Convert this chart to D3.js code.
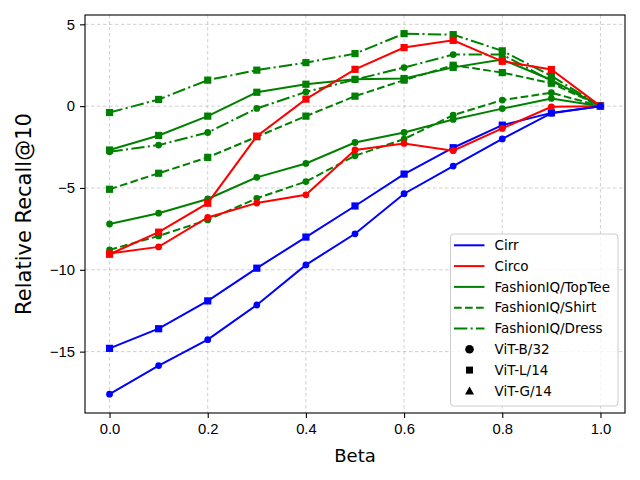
<!DOCTYPE html>
<html>
<head>
    <meta charset="utf-8">
    <script src="https://cdn.jsdelivr.net/npm/d3@7"></script>
    <style>
        body { margin: 0; background: #fff; }
        svg { font-family: "DejaVu Sans", sans-serif; }
        .grid line { stroke: #b0b0b0; stroke-opacity: 0.75; stroke-width: 0.8px; stroke-dasharray: 3.5, 2.5; }
        .axis path, .axis line { stroke: #000; }
        .axis text { font-size: 14.8px; fill: #000; }
    </style>
</head>
<body>
<script>
    // beta values on the x axis
    var betas = [0, 0.1, 0.2, 0.3, 0.4, 0.5, 0.6, 0.7, 0.8, 0.9, 1.0];

    // relative Recall@10 per dataset and backbone
    var cirrB32     = [-17.6, -15.85, -14.27, -12.15, -9.7, -7.8, -5.35, -3.66, -2.0, -0.43, 0];
    var cirrL14     = [-14.8, -13.6, -11.9, -9.9, -8.0, -6.1, -4.15, -2.54, -1.16, -0.41, 0];
    var circoB32    = [-9.0, -8.6, -6.8, -5.92, -5.42, -2.68, -2.28, -2.72, -1.36, -0.04, 0];
    var circoL14    = [-9.05, -7.7, -5.93, -1.83, 0.43, 2.25, 3.58, 4.02, 2.74, 2.24, 0];
    var topteeB32   = [-7.2, -6.54, -5.67, -4.35, -3.5, -2.22, -1.61, -0.81, -0.15, 0.47, 0];
    var topteeL14   = [-2.68, -1.79, -0.61, 0.85, 1.34, 1.64, 1.69, 2.37, 2.85, 1.6, 0];
    var shirtB32    = [-8.78, -7.93, -6.95, -5.63, -4.61, -3.03, -2.01, -0.55, 0.37, 0.82, 0];
    var shirtL14    = [-5.08, -4.1, -3.13, -1.87, -0.61, 0.61, 1.59, 2.5, 2.05, 1.4, 0];
    var dressB32    = [-2.78, -2.38, -1.61, -0.14, 0.87, 1.62, 2.36, 3.15, 3.15, 1.55, 0];
    var dressL14    = [-0.39, 0.41, 1.59, 2.2, 2.66, 3.21, 4.43, 4.37, 3.38, 1.85, 0];

    var datasetNames = ["Cirr", "Circo", "FashionIQ/TopTee", "FashionIQ/Shirt", "FashionIQ/Dress"];
    var modelNames = ["ViT-B/32", "ViT-L/14", "ViT-G/14"];
    var xTicks = [0, 0.2, 0.4, 0.6, 0.8, 1.0];
    var yTicks = [5, 0, -5, -10, -15];

    var styles = {
        "Cirr": {color: "#0000ff", dash: null},
        "Circo": {color: "#ff0000", dash: null},
        "FashionIQ/TopTee": {color: "#008000", dash: null},
        "FashionIQ/Shirt": {color: "#008000", dash: "7.7,3.3"},
        "FashionIQ/Dress": {color: "#008000", dash: "13.3,3.3,2.1,3.3"}
    };

    // drawing order (later on top)
    var series = [
        {dataset: "FashionIQ/TopTee", model: "ViT-B/32", values: topteeB32},
        {dataset: "FashionIQ/Shirt", model: "ViT-B/32", values: shirtB32},
        {dataset: "FashionIQ/Dress", model: "ViT-B/32", values: dressB32},
        {dataset: "FashionIQ/TopTee", model: "ViT-L/14", values: topteeL14},
        {dataset: "FashionIQ/Shirt", model: "ViT-L/14", values: shirtL14},
        {dataset: "FashionIQ/Dress", model: "ViT-L/14", values: dressL14},
        {dataset: "Cirr", model: "ViT-L/14", values: cirrL14},
        {dataset: "Circo", model: "ViT-L/14", values: circoL14},
        {dataset: "Circo", model: "ViT-B/32", values: circoB32},
        {dataset: "Cirr", model: "ViT-B/32", values: cirrB32}
    ];

    var W = 640, H = 480;
    var margin = {top: 15, right: 15, bottom: 67, left: 85},
        width = W - margin.left - margin.right,
        height = H - margin.top - margin.bottom;

    var svg = d3.select("body").append("svg")
        .attr("width", W)
        .attr("height", H);

    var g = svg.append("g")
        .attr("transform", "translate(" + margin.left + "," + margin.top + ")");

    var x = d3.scaleLinear().domain([-0.05, 1.05]).range([0, width]);
    var y = d3.scaleLinear().domain([-18.75, 5.57]).range([height, 0]);

    // grid
    var grid = g.append("g").attr("class", "grid");
    grid.selectAll(".gx").data(xTicks).enter().append("line")
        .attr("x1", function (d) { return x(d); })
        .attr("x2", function (d) { return x(d); })
        .attr("y1", 0).attr("y2", height);
    grid.selectAll(".gy").data(yTicks).enter().append("line")
        .attr("x1", 0).attr("x2", width)
        .attr("y1", function (d) { return y(d); })
        .attr("y2", function (d) { return y(d); });

    var line = d3.line()
        .x(function (d, i) { return x(betas[i]); })
        .y(function (d) { return y(d); });

    var plot = g.append("g");
    series.forEach(function (s) {
        var st = styles[s.dataset];
        var sg = plot.append("g");
        sg.append("path")
            .datum(s.values)
            .attr("d", line)
            .attr("fill", "none")
            .attr("stroke", st.color)
            .attr("stroke-width", 2)
            .attr("stroke-dasharray", st.dash);
        if (s.model === "ViT-B/32") {
            sg.selectAll("circle").data(s.values).enter().append("circle")
                .attr("cx", function (d, i) { return x(betas[i]); })
                .attr("cy", function (d) { return y(d); })
                .attr("r", 3.4)
                .attr("fill", st.color);
        } else {
            sg.selectAll("rect").data(s.values).enter().append("rect")
                .attr("x", function (d, i) { return x(betas[i]) - 3.6; })
                .attr("y", function (d) { return y(d) - 3.6; })
                .attr("width", 7.2)
                .attr("height", 7.2)
                .attr("fill", st.color);
        }
    });

    // axes
    var fmtY = function (d) { return d < 0 ? "\u2212" + Math.abs(d) : "" + d; };
    g.append("g")
        .attr("class", "axis")
        .attr("transform", "translate(0," + height + ")")
        .call(d3.axisBottom(x).tickValues(xTicks).tickFormat(d3.format(".1f")).tickSizeOuter(0).tickSize(5).tickPadding(5))
        .call(function (a) { a.select(".domain").remove(); a.selectAll("line").attr("stroke-width", 1.1); });
    g.append("g")
        .attr("class", "axis")
        .call(d3.axisLeft(y).tickValues(yTicks).tickFormat(fmtY).tickSizeOuter(0).tickSize(5).tickPadding(5))
        .call(function (a) { a.select(".domain").remove(); a.selectAll("line").attr("stroke-width", 1.1); });

    g.append("rect")
        .attr("width", width).attr("height", height)
        .attr("fill", "none").attr("stroke", "#000").attr("stroke-width", 1.1);

    svg.append("text")
        .attr("x", margin.left + width / 2)
        .attr("y", 462)
        .attr("text-anchor", "middle")
        .style("font-size", "18px")
        .text("Beta");

    svg.append("text")
        .attr("transform", "translate(31," + (margin.top + height / 2) + ") rotate(-90)")
        .attr("text-anchor", "middle")
        .style("font-size", "21px")
        .text("Relative Recall@10");

    // legend
    var lg = svg.append("g").attr("transform", "translate(450.5,234)");
    lg.append("rect")
        .attr("width", 167.5).attr("height", 172)
        .attr("rx", 3)
        .attr("fill", "#fff").attr("fill-opacity", 0.8)
        .attr("stroke", "#cccccc").attr("stroke-width", 1);

    var rowH = 20.8, row0 = 11.3;
    datasetNames.forEach(function (name, i) {
        var st = styles[name];
        var cy = row0 + i * rowH;
        lg.append("line")
            .attr("x1", 3.5).attr("x2", 34)
            .attr("y1", cy).attr("y2", cy)
            .attr("stroke", st.color).attr("stroke-width", 2)
            .attr("stroke-dasharray", st.dash);
        lg.append("text")
            .attr("x", 44).attr("y", cy).attr("dy", "0.35em")
            .style("font-size", "13.5px")
            .text(name);
    });
    modelNames.forEach(function (name, j) {
        var cy = row0 + (datasetNames.length + j) * rowH;
        var mx = 19;
        if (j === 0) {
            lg.append("circle").attr("cx", mx).attr("cy", cy).attr("r", 4.3).attr("fill", "#000");
        } else if (j === 1) {
            lg.append("rect").attr("x", mx - 3.5).attr("y", cy - 3.5).attr("width", 7).attr("height", 7).attr("fill", "#000");
        } else {
            lg.append("path")
                .attr("d", "M" + mx + "," + (cy - 4.5) + "L" + (mx + 4.5) + "," + (cy + 3.5) + "L" + (mx - 4.5) + "," + (cy + 3.5) + "Z")
                .attr("fill", "#000");
        }
        lg.append("text")
            .attr("x", 44).attr("y", cy).attr("dy", "0.35em")
            .style("font-size", "13.5px")
            .text(name);
    });
</script>
</body>
</html>
